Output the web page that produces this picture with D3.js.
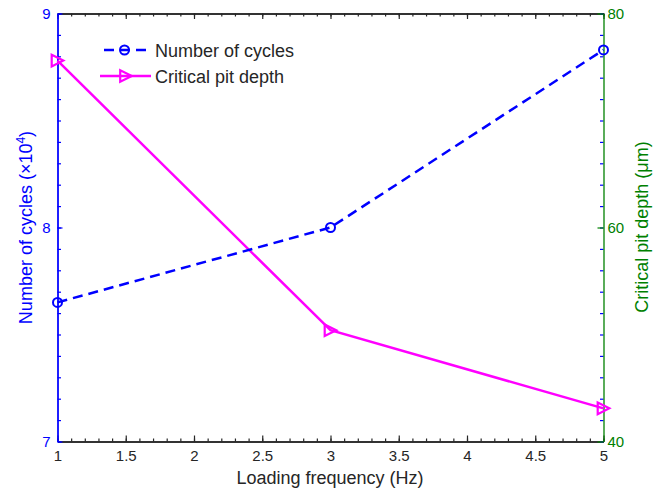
<!DOCTYPE html>
<html>
<head>
<meta charset="utf-8">
<script src="https://cdn.jsdelivr.net/npm/d3@7"></script>
<style>
  html, body { margin: 0; padding: 0; background: #fff; }
  svg { display: block; font-family: "Liberation Sans", Arial, sans-serif; }
</style>
</head>
<body>
<div id="chart"></div>
<script>
// Loading frequency (Hz)
const frequency = [1, 3, 5];
// Number of cycles (x10^4), left axis
const cycles = [7.65, 8.0, 8.83];
// Critical pit depth (um), right axis
const pitDepth = [75.6, 50.4, 43.1];

const xTicks = [1, 1.5, 2, 2.5, 3, 3.5, 4, 4.5, 5];
const leftTicks = [7, 8, 9];
const rightTicks = [40, 60, 80];
const legendNames = ["Number of cycles", "Critical pit depth"];

const W = 662, H = 492;
const plot = { left: 57.5, right: 603.5, top: 13.5, bottom: 441.5 };
const BLUE = "#0000ff", GREEN = "#008000", MAGENTA = "#ff00ff", INK = "#262626";

const svg = d3.select("#chart").append("svg").attr("width", W).attr("height", H);

const x = d3.scaleLinear().domain([1, 5]).range([plot.left, plot.right]);
const yL = d3.scaleLinear().domain([7, 9]).range([plot.bottom, plot.top]);
const yR = d3.scaleLinear().domain([40, 80]).range([plot.bottom, plot.top]);

const minorX = d3.range(10, 51).map(v => v / 10);
const minorL = d3.range(70, 91).map(v => v / 10);

function style(g, color, fontSize) {
  g.select(".domain").attr("stroke", color).attr("stroke-width", 1.3);
  g.selectAll(".tick line").attr("stroke", color).attr("stroke-width", 1.2);
  g.selectAll(".tick text").attr("fill", color).attr("font-size", fontSize)
    .attr("font-family", "Liberation Sans, Arial, sans-serif");
}

// top axis (ticks only)
svg.append("g").attr("transform", `translate(0,${plot.top})`)
  .call(d3.axisTop(x).tickValues(minorX).tickSizeInner(-3).tickSizeOuter(0).tickFormat(""))
  .call(g => style(g, INK, 15));
svg.append("g").attr("transform", `translate(0,${plot.top})`)
  .call(d3.axisTop(x).tickValues(xTicks).tickSizeInner(-5.5).tickSizeOuter(0).tickFormat(""))
  .call(g => style(g, INK, 15));

// bottom axis
svg.append("g").attr("transform", `translate(0,${plot.bottom})`)
  .call(d3.axisBottom(x).tickValues(minorX).tickSizeInner(-3).tickSizeOuter(0).tickFormat(""))
  .call(g => style(g, INK, 15));
svg.append("g").attr("transform", `translate(0,${plot.bottom})`)
  .call(d3.axisBottom(x).tickValues(xTicks).tickSizeInner(-6).tickSizeOuter(0).tickPadding(9)
    .tickFormat(d3.format("~g")))
  .call(g => style(g, INK, 15));

// left minor ticks mirrored on the right edge
svg.append("g").attr("transform", `translate(${plot.right},0)`)
  .call(d3.axisRight(yL).tickValues(minorL).tickSizeInner(-3.5).tickSizeOuter(0).tickFormat(""))
  .call(g => { style(g, BLUE, 15); g.select(".domain").remove(); });

// right axis
svg.append("g").attr("transform", `translate(${plot.right},0)`)
  .call(d3.axisRight(yR).tickValues(rightTicks).tickSizeInner(-6).tickSizeOuter(0).tickPadding(4)
    .tickFormat(d3.format("d")))
  .call(g => style(g, GREEN, 15));

// left axis
svg.append("g").attr("transform", `translate(${plot.left},0)`)
  .call(d3.axisLeft(yL).tickValues(minorL).tickSizeInner(-3.5).tickSizeOuter(0).tickFormat(""))
  .call(g => style(g, BLUE, 15));
svg.append("g").attr("transform", `translate(${plot.left},0)`)
  .call(d3.axisLeft(yL).tickValues(leftTicks).tickSizeInner(-5).tickSizeOuter(0).tickPadding(7)
    .tickFormat(d3.format("d")))
  .call(g => style(g, BLUE, 15));

// axis titles
svg.append("text").attr("x", 330).attr("y", 484).attr("text-anchor", "middle")
  .attr("font-size", 18).attr("fill", INK).text("Loading frequency (Hz)");

const leftTitle = svg.append("text")
  .attr("transform", "translate(32,227.5) rotate(-90)")
  .attr("text-anchor", "middle").attr("font-size", 18).attr("fill", BLUE);
leftTitle.append("tspan").text("Number of cycles (×10");
leftTitle.append("tspan").attr("font-size", 12).attr("dy", -7).text("4");
leftTitle.append("tspan").attr("dy", 7).text(")");

svg.append("text")
  .attr("transform", "translate(648,227) rotate(-90)")
  .attr("text-anchor", "middle").attr("font-size", 18).attr("fill", GREEN)
  .text("Critical pit depth (μm)");

// series
const cyclesData = frequency.map((f, i) => [f, cycles[i]]);
const pitData = frequency.map((f, i) => [f, pitDepth[i]]);

const triPath = s => `M${-s},${-s}L${-s},${s}L${s},0Z`;

svg.append("path").datum(pitData)
  .attr("fill", "none").attr("stroke", MAGENTA).attr("stroke-width", 2.5)
  .attr("d", d3.line().x(d => x(d[0])).y(d => yR(d[1])));
svg.selectAll(".tri").data(pitData).join("path").attr("class", "tri")
  .attr("transform", d => `translate(${x(d[0])},${yR(d[1])})`)
  .attr("d", triPath(5.8)).attr("fill", "none").attr("stroke", MAGENTA).attr("stroke-width", 2.2);

svg.append("path").datum(cyclesData)
  .attr("fill", "none").attr("stroke", BLUE).attr("stroke-width", 2.5)
  .attr("stroke-dasharray", "10,6")
  .attr("d", d3.line().x(d => x(d[0])).y(d => yL(d[1])));
svg.selectAll(".circ").data(cyclesData).join("circle").attr("class", "circ")
  .attr("cx", d => x(d[0])).attr("cy", d => yL(d[1])).attr("r", 4.5)
  .attr("fill", "none").attr("stroke", BLUE).attr("stroke-width", 2);

// legend
const leg = svg.append("g");
const rowY = [50, 76];
leg.append("line").attr("x1", 104).attr("x2", 151).attr("y1", rowY[0]).attr("y2", rowY[0])
  .attr("stroke", BLUE).attr("stroke-width", 2.5).attr("stroke-dasharray", "10,6");
leg.append("circle").attr("cx", 124.5).attr("cy", rowY[0]).attr("r", 4.5)
  .attr("fill", "none").attr("stroke", BLUE).attr("stroke-width", 2);
leg.append("line").attr("x1", 100).attr("x2", 151).attr("y1", rowY[1]).attr("y2", rowY[1])
  .attr("stroke", MAGENTA).attr("stroke-width", 2.5);
leg.append("path").attr("transform", `translate(126,${rowY[1]})`).attr("d", triPath(5.8))
  .attr("fill", "none").attr("stroke", MAGENTA).attr("stroke-width", 2.2);
leg.selectAll("text").data(legendNames).join("text")
  .attr("x", 155).attr("y", (d, i) => rowY[i] + 6.5)
  .attr("font-size", 18).attr("fill", INK).text(d => d);
</script>
</body>
</html>
